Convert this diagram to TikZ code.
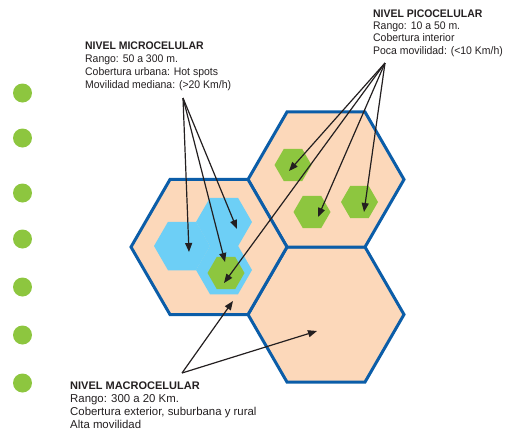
\documentclass[tikz,border=0pt]{standalone}
\usepackage{fontspec}
\setmainfont{Liberation Sans}
\newfontfamily\narrowsans{Liberation Sans}[FakeStretch=0.95]
\usetikzlibrary{arrows.meta}
\definecolor{peach}{HTML}{FCD8BA}
\definecolor{hexedge}{HTML}{0B5DA8}
\definecolor{lblue}{HTML}{6DCFF6}
\definecolor{lgreen}{HTML}{8DC63F}
\definecolor{ink}{HTML}{231F20}
\newcommand\hexpath[2]{(#1)+(0:#2) -- +(60:#2) -- +(120:#2) -- +(180:#2) -- +(240:#2) -- +(300:#2) -- cycle}
\tikzset{
  macrohex/.style={fill=peach, draw=hexedge, line width=3pt, line join=miter},
  microhex/.style={fill=lblue},
  picohex/.style={fill=lgreen},
  dot/.style={fill=lgreen},
  lbl/.style={anchor=base west, inner sep=0pt, text=ink, font=\narrowsans\fontsize{11}{13}\selectfont},
  ttl/.style={lbl, font=\narrowsans\fontsize{11}{13}\selectfont\bfseries},
  lblw/.style={anchor=base west, inner sep=0pt, text=ink, font=\fontsize{11.4}{13}\selectfont},
  ttlw/.style={lblw, font=\fontsize{11}{13}\selectfont\bfseries},
  pointer/.style={draw=ink, line width=1.2pt, -{Triangle[length=9pt,width=7pt]}}
}
\begin{document}
\begin{tikzpicture}[x=1pt,y=-1pt]
\useasboundingbox (0,0) rectangle (514,432);
% side dots
\foreach \yy [count=\i] in {93,138,193,239,287,335,383}
  \fill[dot] (22.5,\yy) circle (9.5);
% centres
\coordinate (m1) at (209,247);
\coordinate (m2) at (326,179.5);
\coordinate (m3) at (326,314.5);
\coordinate (b1) at (182,246);
\coordinate (b2) at (224,222);
\coordinate (b3) at (224,270);
\coordinate (g1) at (226,273);
\coordinate (g2) at (293,165);
\coordinate (g3) at (312,212);
\coordinate (g4) at (359.5,202);
% macro cells
\path[macrohex] \hexpath{m3}{78};
\path[macrohex] \hexpath{m2}{78};
\path[macrohex] \hexpath{m1}{78};
% micro cells
\path[microhex] \hexpath{b1}{28};
\path[microhex] \hexpath{b2}{28};
\path[microhex] \hexpath{b3}{28};
% pico cells
\path[picohex] \hexpath{g1}{18.5};
\path[picohex] \hexpath{g2}{18.5};
\path[picohex] \hexpath{g3}{18.5};
\path[picohex] \hexpath{g4}{18.5};
% labels
\node[ttl] (mic1) at (85,49) {NIVEL MICROCELULAR};
\node[lbl] (mic2) at (85,62) {Rango: 50 a 300 m.};
\node[lbl] (mic3) at (85,75) {Cobertura urbana: Hot spots};
\node[lbl] (mic4) at (85,88) {Movilidad mediana: (>20 Km/h)};
\node[ttl] (pic1) at (373,17) {NIVEL PICOCELULAR};
\node[lbl] (pic2) at (373,29.3) {Rango: 10 a 50 m.};
\node[lbl] (pic3) at (373,41.6) {Cobertura interior};
\node[lbl] (pic4) at (373,54) {Poca movilidad: (<10 Km/h)};
\node[ttlw] (mac1) at (70,389) {NIVEL MACROCELULAR};
\node[lblw] (mac2) at (70,402) {Rango: 300 a 20 Km.};
\node[lblw] (mac3) at (70,415) {Cobertura exterior, suburbana y rural};
\node[lblw] (mac4) at (70,428) {Alta movilidad};
% arrow origins and tips
\coordinate (om) at (183,98);
\coordinate (op) at (385,63);
\coordinate (oM) at (182,373);
\coordinate (tm1) at (189,252);
\coordinate (tm2) at (225,262);
\coordinate (tm3) at (237,229);
\coordinate (tp0) at (224,283);
\coordinate (tp1) at (289,171);
\coordinate (tp2) at (318,217);
\coordinate (tp3) at (364,212);
\coordinate (tM1) at (233,301);
\coordinate (tM2) at (317,331);
\foreach \t in {tm1,tm2,tm3} \draw[pointer] (om) -- (\t);
\foreach \t in {tp0,tp1,tp2,tp3} \draw[pointer] (op) -- (\t);
\foreach \t in {tM1,tM2} \draw[pointer] (oM) -- (\t);
\end{tikzpicture}
\end{document}
